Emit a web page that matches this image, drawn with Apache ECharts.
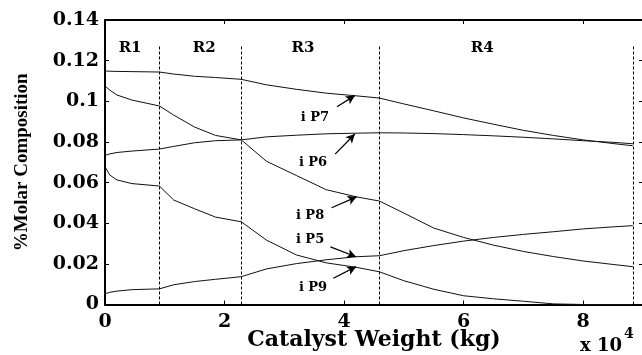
<!DOCTYPE html>
<html>
<head>
<meta charset="utf-8">
<script src="https://cdn.jsdelivr.net/npm/echarts@6/dist/echarts.min.js"></script>
<style>
  html, body { margin: 0; padding: 0; background: #fff; }
  #chart { width: 642px; height: 355px; }
</style>
</head>
<body>
<div id="chart"></div>
<script>
// Catalyst weight in units of 1e4 kg
var weight = [0, 0.08, 0.2, 0.45, 0.91, 1.15, 1.5, 1.85, 2.28, 2.7, 3.2, 3.7, 4.2, 4.59, 5.0, 5.5, 6.0, 6.5, 7.0, 7.5, 8.0, 8.5, 8.83];

// Molar composition of each pseudo-component along the reactor train
var p7 = [0.1149, 0.1148, 0.1147, 0.1146, 0.1144, 0.1134, 0.1123, 0.1117, 0.1108, 0.1081, 0.1059, 0.1040, 0.1027, 0.1016, 0.0987, 0.0953, 0.0918, 0.0887, 0.0857, 0.0832, 0.0810, 0.0792, 0.0781];
var p6 = [0.0734, 0.0741, 0.0748, 0.0755, 0.0765, 0.0778, 0.0796, 0.0806, 0.0810, 0.0825, 0.0833, 0.0840, 0.0843, 0.0845, 0.0844, 0.0841, 0.0836, 0.0830, 0.0823, 0.0815, 0.0806, 0.0798, 0.0791];
var p8 = [0.1075, 0.1055, 0.1031, 0.1006, 0.0977, 0.0932, 0.0873, 0.0832, 0.0810, 0.0705, 0.0635, 0.0565, 0.0530, 0.0509, 0.0450, 0.0376, 0.0330, 0.0292, 0.0261, 0.0236, 0.0214, 0.0197, 0.0186];
var p5 = [0.0053, 0.0060, 0.0066, 0.0073, 0.0077, 0.0097, 0.0113, 0.0124, 0.0137, 0.0175, 0.0201, 0.0220, 0.0235, 0.0240, 0.0265, 0.0290, 0.0312, 0.0330, 0.0345, 0.0358, 0.0372, 0.0382, 0.0388];
var p9 = [0.0678, 0.0637, 0.0613, 0.0595, 0.0583, 0.0514, 0.0471, 0.0430, 0.0407, 0.0317, 0.0244, 0.0205, 0.0183, 0.0161, 0.0117, 0.0075, 0.0043, 0.0028, 0.0016, 0.0003, 0, 0, 0];

// Reactor boundaries (dashed) and reactor names
var reactorEnds = [0.91, 2.28, 4.59, 8.83];
var reactorNames = ['R1', 'R2', 'R3', 'R4'];
var reactorLabelX = [0.42, 1.66, 3.31, 6.31];
var reactorLabelY = 0.1262;
var boundaryTop = 0.127;

// Component callouts: text anchor, arrow tail and arrow head (data units)
var calloutNames = ['i P7', 'i P6', 'i P8', 'i P5', 'i P9'];
var calloutText = [[3.51, 0.0922], [3.48, 0.0700], [3.43, 0.0436], [3.43, 0.0321], [3.48, 0.0083]];
var arrowFrom = [[3.88, 0.0973], [3.85, 0.0740], [3.79, 0.0476], [3.77, 0.0284], [3.82, 0.0129]];
var arrowTo = [[4.18, 0.1028], [4.18, 0.0839], [4.21, 0.0530], [4.20, 0.0235], [4.20, 0.0186]];

var xTicks = [0, 2, 4, 6, 8];
var yTicks = [0, 0.02, 0.04, 0.06, 0.08, 0.1, 0.12, 0.14];

var SERIF = '"DejaVu Serif", serif';

function pairs(ys) {
  return weight.map(function (w, i) { return [w, ys[i]]; });
}

function curve(name, ys, extra) {
  var s = {
    name: name,
    type: 'line',
    data: pairs(ys),
    showSymbol: false,
    symbol: 'none',
    lineStyle: { color: '#111', width: 1 },
    silent: true,
    animation: false,
    z: 3
  };
  if (extra) { for (var k in extra) s[k] = extra[k]; }
  return s;
}

var boundaryLines = reactorEnds.map(function (x) {
  return [{ coord: [x, 0] }, { coord: [x, boundaryTop] }];
});

var arrowLines = arrowFrom.map(function (a, i) {
  return [{ coord: a }, { coord: arrowTo[i] }];
});

function textSeries(name, names, coords, size) {
  return {
    name: name, type: 'scatter', symbolSize: 0, silent: true, animation: false,
    itemStyle: { opacity: 1, color: '#000' },
    data: names.map(function (n, i) { return { name: n, value: coords[i] }; }),
    label: {
      show: true, position: 'inside', formatter: '{b}', color: '#000', opacity: 1,
      fontFamily: SERIF, fontWeight: 'bold', fontSize: size
    },
    z: 5
  };
}

var chart = echarts.init(document.getElementById('chart'), null, { renderer: 'canvas' });

var axisLineStyle = { color: '#000', width: 2 };

chart.setOption({
  animation: false,
  backgroundColor: '#fff',
  grid: { left: 105, top: 20, width: 538, height: 284.5, containLabel: false, outerBoundsMode: 'none' },
  xAxis: [
    {
      type: 'value', min: 0, max: 9, interval: 2, position: 'bottom',
      axisLine: { show: true, onZero: false, lineStyle: axisLineStyle },
      axisTick: { show: true, inside: true, length: 4, lineStyle: { color: '#000', width: 1 } },
      axisLabel: {
        show: true, margin: 8, color: '#000', fontFamily: SERIF, fontWeight: 'bold', fontSize: 19,
        showMaxLabel: false,
        formatter: function (v) { return xTicks.indexOf(v) >= 0 ? String(v) : ''; }
      },
      splitLine: { show: false },
      name: 'Catalyst Weight (kg)', nameLocation: 'middle', nameGap: 25, nameMoveOverlap: false,
      nameTextStyle: { color: '#000', fontFamily: SERIF, fontWeight: 'bold', fontSize: 22 }
    },
    {
      type: 'value', min: 0, max: 9, interval: 2, position: 'top',
      axisLine: { show: true, onZero: false, lineStyle: axisLineStyle },
      axisTick: { show: true, inside: true, length: 4, lineStyle: { color: '#000', width: 1 } },
      axisLabel: { show: false },
      splitLine: { show: false }
    }
  ],
  yAxis: [
    {
      type: 'value', min: 0, max: 0.14, interval: 0.02, position: 'left',
      axisLine: { show: true, onZero: false, lineStyle: axisLineStyle },
      axisTick: { show: true, inside: true, length: 4, lineStyle: { color: '#000', width: 1 } },
      axisLabel: {
        show: true, margin: 6, color: '#000', fontFamily: SERIF, fontWeight: 'bold', fontSize: 19,
        formatter: function (v) {
          var r = Math.round(v * 100) / 100;
          return yTicks.indexOf(r) >= 0 ? String(r) : '';
        }
      },
      splitLine: { show: false },
      name: '%Molar Composition', nameLocation: 'middle', nameGap: 73, nameRotate: 90, nameMoveOverlap: false,
      nameTextStyle: { color: '#000', fontFamily: '"Liberation Serif", serif', fontWeight: 'bold', fontSize: 19 }
    },
    {
      type: 'value', min: 0, max: 0.14, interval: 0.02, position: 'right',
      axisLine: { show: true, onZero: false, lineStyle: axisLineStyle },
      axisTick: { show: true, inside: true, length: 4, lineStyle: { color: '#000', width: 1 } },
      axisLabel: { show: false },
      splitLine: { show: false }
    }
  ],
  series: [
    curve('P7', p7, {
      markLine: {
        silent: true, animation: false, symbol: ['none', 'none'],
        label: { show: false },
        lineStyle: { color: '#000', width: 1, type: [3, 2] },
        data: boundaryLines
      }
    }),
    curve('P6', p6),
    curve('P8', p8, {
      markLine: {
        silent: true, animation: false, symbol: ['none', 'arrow'], symbolSize: [7, 9],
        label: { show: false },
        lineStyle: { color: '#000', width: 1.3, type: 'solid' },
        data: arrowLines
      }
    }),
    curve('P5', p5),
    curve('P9', p9),
    textSeries('reactors', reactorNames, reactorNames.map(function (n, i) { return [reactorLabelX[i], reactorLabelY]; }), 15),
    textSeries('callouts', calloutNames, calloutText, 13)
  ],
  graphic: [
    {
      type: 'text', left: 580, top: 337, silent: true,
      style: { text: 'x 10', fill: '#000', font: 'bold 18px "DejaVu Serif", serif' }
    },
    {
      type: 'text', left: 624, top: 327, silent: true,
      style: { text: '4', fill: '#000', font: 'bold 14px "DejaVu Serif", serif' }
    }
  ]
});
</script>
</body>
</html>
